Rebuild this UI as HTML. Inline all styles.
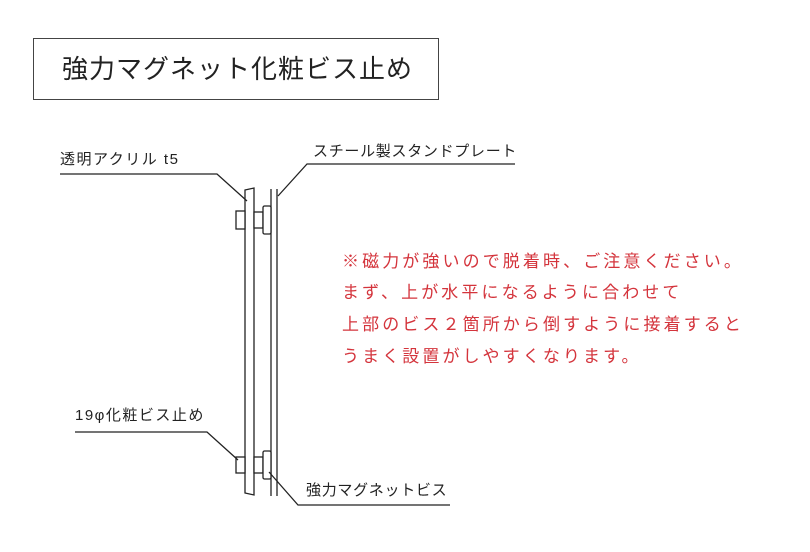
<!DOCTYPE html>
<html><head><meta charset="utf-8"><style>
html,body{margin:0;padding:0;background:#fff;}
body{width:810px;height:552px;position:relative;overflow:hidden;font-family:"Liberation Sans","Noto Sans CJK JP",sans-serif;}
.t{position:absolute;white-space:nowrap;line-height:1;}
.red{color:#d4343c;font-size:17px;letter-spacing:3.1px;left:342px;}
.lbl{font-size:15px;color:#222;letter-spacing:0.7px;}
</style></head><body>
<div style="position:absolute;left:33px;top:38px;width:406px;height:62px;border:1px solid #444;box-sizing:border-box;"></div>
<div class="t" style="left:62px;top:56px;font-size:26px;color:#222;letter-spacing:1px;">強力マグネット化粧ビス止め</div>

<div class="t lbl" style="left:60px;top:152px;letter-spacing:1.5px;">透明アクリル t5</div>
<div class="t lbl" style="left:313px;top:144px;">スチール製スタンドプレート</div>
<div class="t lbl" style="left:75px;top:408px;letter-spacing:1.5px;">19φ化粧ビス止め</div>
<div class="t lbl" style="left:306px;top:483px;">強力マグネットビス</div>

<div class="t red" style="top:253px;">※磁力が強いので脱着時、ご注意ください。</div>
<div class="t red" style="top:284px;">まず、上が水平になるように合わせて</div>
<div class="t red" style="top:316px;">上部のビス２箇所から倒すように接着すると</div>
<div class="t red" style="top:348px;">うまく設置がしやすくなります。</div>

<svg width="810" height="552" style="position:absolute;left:0;top:0" fill="#fff" stroke="#222" stroke-width="1.3">
<polygon points="245,190 254,188 254,495 245,493"/>
<line x1="271" y1="189" x2="271" y2="496"/>
<line x1="277" y1="189" x2="277" y2="496"/>
<rect x="236" y="211" width="9" height="18"/>
<rect x="254" y="212" width="9" height="16"/>
<rect x="263" y="206" width="8" height="28" rx="1.5"/>
<rect x="236" y="457" width="9" height="16"/>
<rect x="254" y="457" width="9" height="16"/>
<rect x="263" y="451" width="8" height="28" rx="1.5"/>
<polyline fill="none" points="60,174 217,174 247,201"/>
<polyline fill="none" points="278,196 307,164 515,164"/>
<polyline fill="none" points="75,432 207,432 238,460"/>
<polyline fill="none" points="269,472 298,505 450,505"/>
</svg>
</body></html>
